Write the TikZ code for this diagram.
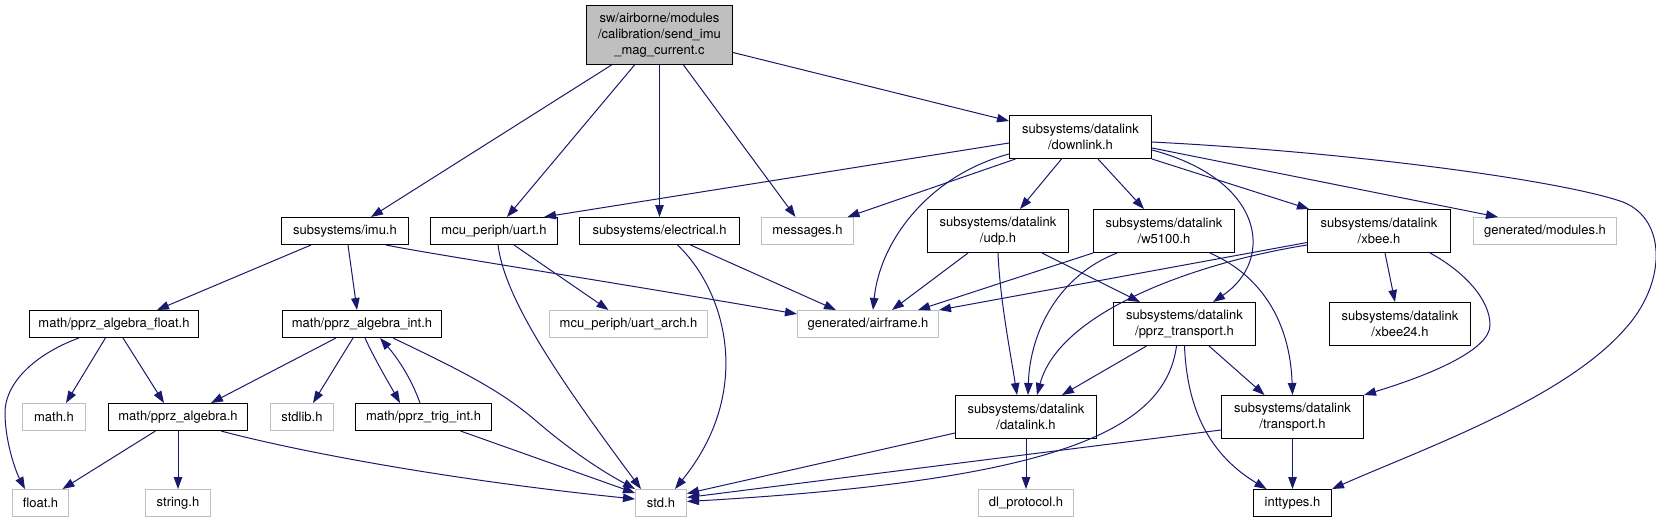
\documentclass[tikz,border=0pt]{standalone}
\usepackage{fontspec}
\setmainfont{TeX Gyre Heros}
\usetikzlibrary{arrows.meta}
\definecolor{edgeblue}{HTML}{191970}
\definecolor{boxgray}{HTML}{BFBFBF}
\begin{document}
\begin{tikzpicture}[x=1pt,y=-1pt,
  nb/.style={draw=black, line width=1pt, fill=white, inner sep=0pt, align=center,
    font=\fontsize{13}{16}\selectfont, minimum height=27pt},
  ng/.style={nb, draw=boxgray},
  e/.style={draw=edgeblue, line width=1pt, -{Triangle[length=12pt,width=8.5pt]}}]
\useasboundingbox[fill=white] (0,0) rectangle (1656,523);
% nodes
\node[nb, fill=boxgray, minimum width=146pt, minimum height=59pt] (root) at (659.5,35) {sw/airborne/modules\\/calibration/send\_imu\\\_mag\_current.c};
\node[nb, minimum width=142pt, minimum height=43pt] (down) at (1080.5,137) {subsystems/datalink\\/downlink.h};
\node[nb, minimum width=127pt] (imu) at (345,231) {subsystems/imu.h};
\node[nb, minimum width=127pt] (uart) at (494,231) {mcu\_periph/uart.h};
\node[nb, minimum width=160pt] (elec) at (659.5,231) {subsystems/electrical.h};
\node[ng, minimum width=92pt] (msg) at (807.5,231) {messages.h};
\node[nb, minimum width=141pt, minimum height=43pt] (udp) at (998,231) {subsystems/datalink\\/udp.h};
\node[nb, minimum width=141pt, minimum height=43pt] (w5100) at (1164,231) {subsystems/datalink\\/w5100.h};
\node[nb, minimum width=143pt, minimum height=43pt] (xbee) at (1379,231) {subsystems/datalink\\/xbee.h};
\node[ng, minimum width=143pt] (mods) at (1545,231) {generated/modules.h};
\node[nb, minimum width=169pt] (alfl) at (114,324) {math/pprz\_algebra\_float.h};
\node[nb, minimum width=159pt] (alint) at (362,324) {math/pprz\_algebra\_int.h};
\node[ng, minimum width=158pt] (uarch) at (628.5,324) {mcu\_periph/uart\_arch.h};
\node[ng, minimum width=141pt] (airf) at (868,324) {generated/airframe.h};
\node[nb, minimum width=142pt, minimum height=43pt] (pprzt) at (1184.5,324) {subsystems/datalink\\/pprz\_transport.h};
\node[nb, minimum width=141pt, minimum height=43pt] (xbee24) at (1400,324) {subsystems/datalink\\/xbee24.h};
\node[ng, minimum width=63pt] (mathh) at (54,417) {math.h};
\node[nb, minimum width=139pt] (alg) at (178,417) {math/pprz\_algebra.h};
\node[ng, minimum width=63pt] (stdlib) at (302,417) {stdlib.h};
\node[nb, minimum width=136pt] (trig) at (423.5,417) {math/pprz\_trig\_int.h};
\node[nb, minimum width=141pt, minimum height=43pt] (dl) at (1026,417) {subsystems/datalink\\/datalink.h};
\node[nb, minimum width=142pt, minimum height=43pt] (tr) at (1292.5,417) {subsystems/datalink\\/transport.h};
\node[ng, minimum width=56pt] (floath) at (40.5,503) {float.h};
\node[ng, minimum width=65pt] (stringh) at (178,503) {string.h};
\node[ng, minimum width=51pt] (stdh) at (661,503) {std.h};
\node[ng, minimum width=95pt] (dlp) at (1026,503) {dl\_protocol.h};
\node[nb, minimum width=78pt] (intt) at (1292.5,503) {inttypes.h};
% root
\draw[e] ([xshift=-48pt]root.south) -- ([xshift=26pt]imu.north);
\draw[e] ([xshift=-25pt]root.south) -- ([xshift=13pt]uart.north);
\draw[e] (root.south) -- (elec.north);
\draw[e] ([xshift=24pt]root.south) -- ([xshift=-12pt]msg.north);
\draw[e] ([yshift=-17.5pt]root.east) -- ([yshift=16pt]down.west);
% downlink
\draw[e] ([yshift=-6pt]down.west) -- ([xshift=50pt]uart.north);
\draw[e] ([xshift=-65pt]down.south) -- ([xshift=40pt]msg.north);
\draw[e] ([yshift=-17pt]down.west) .. controls (930,175) and (880,240) .. ([xshift=5pt]airf.north);
\draw[e] ([xshift=-19pt]down.south) -- ([xshift=22pt]udp.north);
\draw[e] ([xshift=17.5pt]down.south) -- ([xshift=-20pt]w5100.north);
\draw[e] ([yshift=-13pt]down.east) .. controls (1265,180) and (1275,260) .. ([xshift=28.5pt]pprzt.north);
\draw[e] (down.south east) -- ([xshift=2pt]xbee.north west);
\draw[e] ([yshift=-11pt]down.east) -- ([xshift=-47pt]mods.north);
\draw[e] ([yshift=-5pt]down.east) .. controls (1350,152) and (1560,180) .. (1623,202) .. controls (1668,220) and (1666,285) .. (1624,330) .. controls (1562,400) and (1420,450) .. (intt.north east);
% imu
\draw[e] ([xshift=-34pt]imu.south) -- ([xshift=43pt]alfl.north);
\draw[e] ([xshift=3pt]imu.south) -- ([xshift=-5pt]alint.north);
\draw[e] ([xshift=41pt]imu.south) .. controls (430,254) and (600,280) .. ([yshift=10pt]airf.west);
% uart
\draw[e] ([xshift=4pt]uart.south) .. controls (505,300) and (560,380) .. ([xshift=-20pt]stdh.north);
\draw[e] ([xshift=20pt]uart.south) -- ([xshift=-20pt]uarch.north);
% electrical
\draw[e] ([xshift=31pt]elec.south) -- ([xshift=-32pt]airf.north);
\draw[e] ([xshift=18pt]elec.south) .. controls (725,290) and (755,390) .. ([xshift=14pt]stdh.north);
% udp
\draw[e] ([xshift=-30pt]udp.south) -- ([xshift=24pt]airf.north);
\draw[e] (udp.south) .. controls (1000,300) and (1010,350) .. ([xshift=-9pt]dl.north);
\draw[e] ([xshift=44pt]udp.south) -- ([xshift=-44.5pt]pprzt.north);
% w5100
\draw[e] (w5100.south west) -- ([xshift=50pt]airf.north);
\draw[e] ([xshift=-47pt]w5100.south) .. controls (1060,275) and (1030,330) .. ([xshift=2pt]dl.north);
\draw[e] ([xshift=46pt]w5100.south) .. controls (1260,275) and (1290,320) .. (tr.north);
% xbee
\draw[e] ([yshift=-11.5pt]xbee.west) -- (airf.north east);
\draw[e] ([yshift=-14pt]xbee.west) .. controls (1200,262) and (1060,310) .. ([xshift=11pt]dl.north);
\draw[e] ([xshift=6pt]xbee.south) -- ([xshift=-5pt]xbee24.north);
\draw[e] ([xshift=51pt]xbee.south) .. controls (1465,272) and (1490,300) .. (1490,325) .. controls (1490,350) and (1430,375) .. (tr.north east);
% pprz_transport
\draw[e] ([xshift=-38pt]pprzt.south) -- ([xshift=36pt]dl.north);
\draw[e] ([xshift=-8pt]pprzt.south) .. controls (1165,430) and (1060,480) .. ([yshift=1.5pt]stdh.east);
\draw[e] ([xshift=24.5pt]pprzt.south) -- ([xshift=-28pt]tr.north);
\draw[e] (pprzt.south) .. controls (1187,410) and (1210,455) .. ([xshift=-26pt]intt.north);
% transport
\draw[e] ([yshift=-13pt]tr.west) -- ([yshift=5.5pt]stdh.east);
\draw[e] (tr.south) -- (intt.north);
% datalink
\draw[e] ([yshift=-16pt]dl.west) -- ([yshift=9.5pt]stdh.east);
\draw[e] (dl.south) -- (dlp.north);
% algebra float
\draw[e] ([xshift=-35pt]alfl.south) .. controls (40,352) and (5,380) .. (5,413) .. controls (5,440) and (15,470) .. ([xshift=-15.5pt]floath.north);
\draw[e] ([xshift=-8.6pt]alfl.south) -- ([xshift=12pt]mathh.north);
\draw[e] ([xshift=9pt]alfl.south) -- ([xshift=-14pt]alg.north);
% algebra int
\draw[e] ([xshift=-26pt]alint.south) -- ([xshift=33pt]alg.north);
\draw[e] ([xshift=-9pt]alint.south) -- ([xshift=11pt]stdlib.north);
\draw[e] ([xshift=3pt]alint.south) .. controls (375,360) and (390,385) .. ([xshift=-23.5pt]trig.north);
\draw[e] ([xshift=-3.5pt]trig.north) .. controls (410,375) and (395,355) .. ([xshift=18pt]alint.south);
\draw[e] ([xshift=31pt]alint.south) .. controls (460,370) and (500,390) .. (535,420) .. controls (570,450) and (600,470) .. (stdh.north west);
% algebra
\draw[e] ([xshift=-22.6pt]alg.south) -- ([xshift=22pt]floath.north);
\draw[e] (alg.south) -- (stringh.north);
\draw[e] ([xshift=43pt]alg.south) .. controls (300,452) and (450,480) .. ([yshift=4pt]stdh.west);
% trig
\draw[e] ([xshift=37pt]trig.south) -- ([yshift=10pt]stdh.west);
\end{tikzpicture}
\end{document}
